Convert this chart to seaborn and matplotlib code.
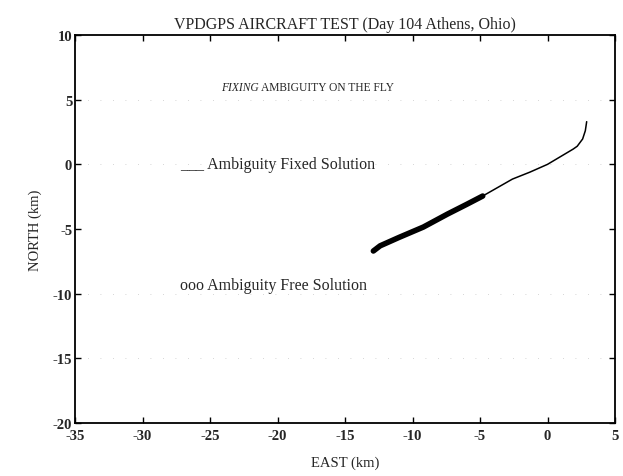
import seaborn as sns
import matplotlib.pyplot as plt
import pandas as pd

# trajectory (km)
east_fixed = [-12.9, -12.4, -11.0, -9.2, -7.4, -6.0, -4.8]
north_fixed = [-6.7, -6.3, -5.65, -4.85, -3.84, -3.1, -2.45]
east_free = [-4.8, -2.6, -1.3, 0.0, 1.9, 2.2, 2.6, 2.8, 2.9]
north_free = [-2.45, -1.14, -0.6, 0.0, 1.18, 1.4, 1.96, 2.6, 3.3]

x_ticks = [-35, -30, -25, -20, -15, -10, -5, 0, 5]
y_ticks = [-20, -15, -10, -5, 0, 5, 10]

sns.set_theme(style="white")
plt.rcParams['font.family'] = ['Liberation Serif', 'DejaVu Serif']
plt.rcParams['axes.unicode_minus'] = False
plt.rcParams['xtick.direction'] = 'in'
plt.rcParams['ytick.direction'] = 'in'

fixed = pd.DataFrame({'east': east_fixed, 'north': north_fixed})
free = pd.DataFrame({'east': east_free, 'north': north_free})

fig = plt.figure(figsize=(6.23, 4.77), dpi=100)
ax = fig.add_axes([0.1204, 0.1111, 0.8668, 0.8134])

# faint dotted grid, mostly lost in the original scan
for yv in [5, 0, -10, -15]:
    ax.axhline(yv, color='#c8c8c8', lw=0.6, ls=(0, (1, 14)), zorder=0)

sns.lineplot(data=free, x='east', y='north', sort=False, estimator=None,
             color='black', lw=1.1, ax=ax)
sns.lineplot(data=fixed, x='east', y='north', sort=False, estimator=None,
             color='black', lw=4.0, ax=ax, solid_capstyle='round')

ax.set_xlim(-35, 5)
ax.set_ylim(-20, 10)
ax.set_xticks(x_ticks)
ax.set_yticks(y_ticks)
ax.tick_params(top=True, right=True, bottom=True, left=True, length=4,
               width=1, color='black', labelsize=10.5)
ax.tick_params(axis='x', pad=4)
ax.tick_params(axis='y', pad=2)
for lab in ax.get_xticklabels() + ax.get_yticklabels():
    lab.set_fontweight('bold')
for s in ax.spines.values():
    s.set_color('black')
    s.set_linewidth(1.3)

ax.set_xlabel('EAST (km)', fontsize=10.5, labelpad=10)
ax.set_ylabel('NORTH (km)', fontsize=10.5, labelpad=8)
ax.set_title('VPDGPS AIRCRAFT TEST (Day 104 Athens, Ohio)', fontsize=11.5, pad=5)

ax.text(-24.2, 6.0, 'FIXING', fontsize=8.3, style='italic', va='center')
ax.text(-21.2, 6.0, 'AMBIGUITY ON THE FLY', fontsize=8.3, va='center')
ax.text(-27.2, 0.0, '___ Ambiguity Fixed Solution', fontsize=11.5, va='center')
ax.text(-27.2, -9.3, 'ooo Ambiguity Free Solution', fontsize=11.5, va='center')

fig.savefig('out.png', dpi=100)
